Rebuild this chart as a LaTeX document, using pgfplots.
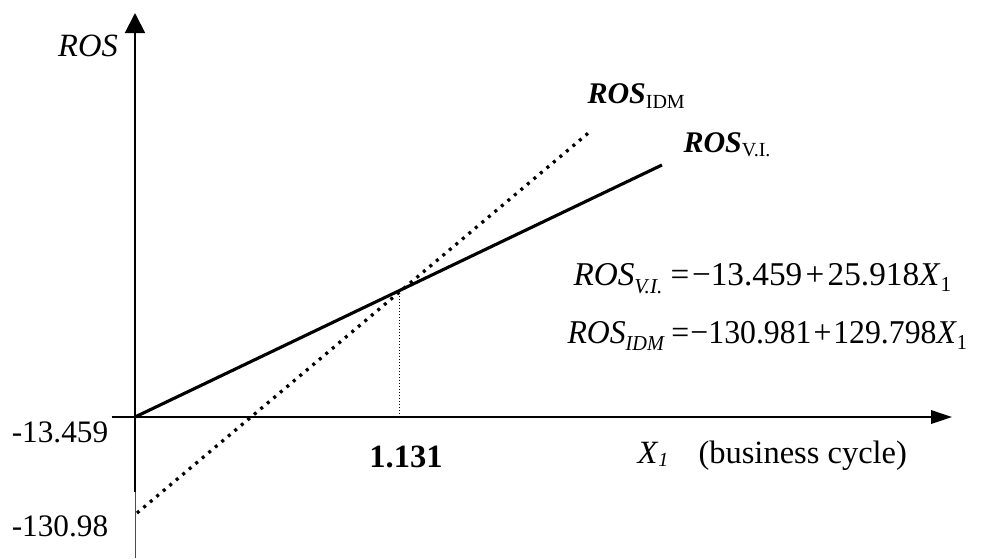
\documentclass[border=0pt]{standalone}
\usepackage{fontspec}
\setmainfont{Liberation Serif}
\usepackage{graphicx}
\usepackage{pgfplots}
\pgfplotsset{compat=1.18}
\usetikzlibrary{arrows.meta}
\newcommand{\sub}[3][1.6pt]{\raisebox{-#1}{\fontsize{#2}{#2}\selectfont #3}}
\begin{document}
\begin{tikzpicture}
\useasboundingbox (0pt,0pt) rectangle (392.8pt,-223.2pt);
\begin{axis}[
  anchor=origin, at={(54pt,-166.8pt)},
  x=93.72pt, y=0.4pt,
  scale only axis,
  xmin=-0.0982, xmax=3.487, ymin=-75, ymax=404,
  axis lines=middle,
  axis line style={line width=0.8pt},
  x axis line style={-{Triangle[length=8.4pt,width=5.4pt]}},
  y axis line style={-{Triangle[length=8pt,width=8pt]}},
  xtick=\empty, ytick=\empty,
  clip=false,
]
% ROS V.I. (solid)
\addplot[black, line width=1.25pt, line cap=butt] coordinates {(0,0) (2.249,252)};
% ROS IDM (dotted)
\addplot[black, line width=1.3pt, dash pattern=on 1.2pt off 2.2pt] coordinates {(0.0085,-96) (1.950,287)};
% drop line at intersection
\addplot[black, line width=0.4pt, dash pattern=on 0.4pt off 0.8pt] coordinates {(1.131,0) (1.131,125)};
% thin lower extension of the y axis
\addplot[black!70, line width=0.4pt] coordinates {(0.004,-75) (0.004,-141)};
\end{axis}
% labels
\node[font=\fontsize{13}{15}\selectfont\itshape] at (35.2pt,-18.4pt) {ROS};
\node[anchor=base, font=\fontsize{12.5}{15}\selectfont] at (24pt,-176.8pt) {-13.459};
\node[anchor=base, font=\fontsize{12.5}{15}\selectfont] at (24pt,-214.4pt) {-130.98};
\node[anchor=base, font=\fontsize{13}{15}\selectfont\bfseries] at (162.4pt,-186.8pt) {1.131};
\node[anchor=base west, inner sep=0pt, font=\fontsize{13}{15}\selectfont] at (254.8pt,-185.2pt) {\textit{X}\sub[1.5pt]{8}{\textit{1}}};
\node[anchor=base west, inner sep=0pt, font=\fontsize{13}{15}\selectfont] at (279.2pt,-185.2pt) {(business cycle)};
\node[anchor=base west, inner sep=0pt, font=\fontsize{12}{14}\selectfont] at (234.8pt,-41.2pt) {\textbf{\textit{ROS}}\sub[2pt]{8}{IDM}};
\node[anchor=base west, inner sep=0pt, font=\fontsize{12}{14}\selectfont] at (273.2pt,-60.8pt) {\textbf{\textit{ROS}}\sub[1.8pt]{8}{V.I.}};
% equations
\node[anchor=base west, inner sep=0pt, font=\fontsize{13.3}{16}\selectfont] at (229.2pt,-114pt)
  {\textit{ROS}\sub[3.2pt]{8.5}{\textit{V.I.}}\hspace{0.25em}=\hspace{0.08em}−13.459\hspace{0.1em}+\hspace{0.1em}25.918\textit{X}\sub[2.6pt]{8.5}{1}};
\node[anchor=base west, inner sep=0pt, font=\fontsize{13.3}{16}\selectfont] at (226.8pt,-137.2pt)
  {\scalebox{0.955}[1]{\textit{ROS}\sub[2.8pt]{8.5}{\textit{IDM}}\hspace{0.2em}=\hspace{0.04em}−130.981\hspace{0.06em}+\hspace{0.06em}129.798\textit{X}\sub[2.6pt]{8.5}{1}}};
\end{tikzpicture}
\end{document}
